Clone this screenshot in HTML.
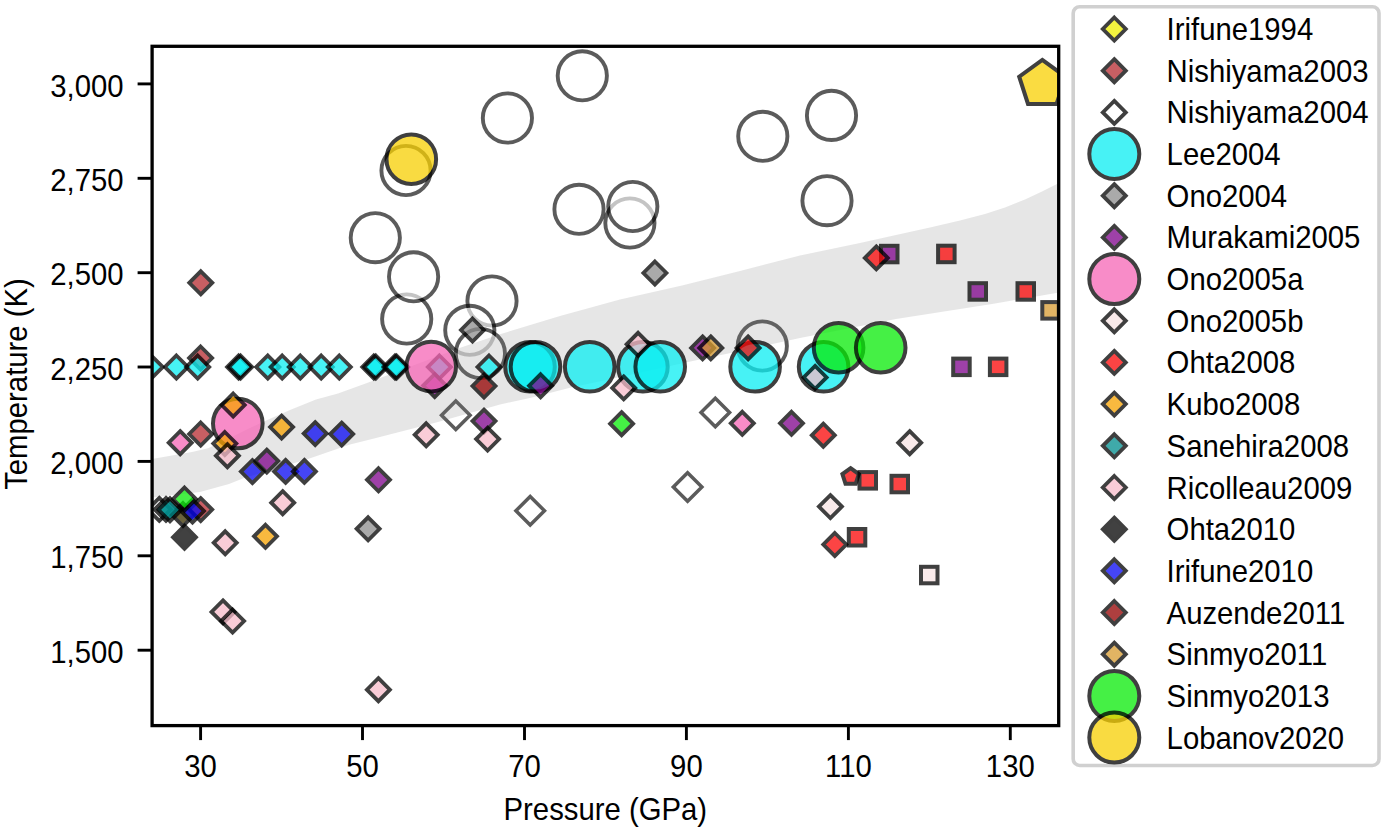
<!DOCTYPE html>
<html><head><meta charset="utf-8"><title>Melting curve</title>
<style>
html,body{margin:0;padding:0;background:#fff;}
body{width:1384px;height:832px;overflow:hidden;}
svg{display:block;}
text{font-family:"Liberation Sans",sans-serif;font-size:29.3px;fill:#000;}
</style></head>
<body>
<svg width="1384" height="832" viewBox="0 0 1384 832">
<defs><clipPath id="ax"><rect x="152.1" y="46.3" width="906.6" height="679.3"/></clipPath></defs>
<rect width="1384" height="832" fill="#fff"/>
<g clip-path="url(#ax)">
<circle cx="375.3" cy="237.7" r="24.6" fill="#fff" opacity="0.64" stroke="#000" stroke-width="3.9"/>
<circle cx="406.7" cy="319.0" r="24.6" fill="#fff" opacity="0.64" stroke="#000" stroke-width="3.9"/>
<circle cx="413.6" cy="276.8" r="24.6" fill="#fff" opacity="0.64" stroke="#000" stroke-width="3.9"/>
<circle cx="492.0" cy="301.0" r="24.6" fill="#fff" opacity="0.64" stroke="#000" stroke-width="3.9"/>
<circle cx="469.8" cy="330.3" r="24.6" fill="#fff" opacity="0.64" stroke="#000" stroke-width="3.9"/>
<circle cx="480.4" cy="353.5" r="24.6" fill="#fff" opacity="0.64" stroke="#000" stroke-width="3.9"/>
<circle cx="406.0" cy="170.5" r="24.6" fill="#fff" opacity="0.64" stroke="#000" stroke-width="3.9"/>
<circle cx="507.4" cy="118.0" r="24.6" fill="#fff" opacity="0.64" stroke="#000" stroke-width="3.9"/>
<circle cx="582.3" cy="75.8" r="24.6" fill="#fff" opacity="0.64" stroke="#000" stroke-width="3.9"/>
<circle cx="579.0" cy="209.3" r="24.6" fill="#fff" opacity="0.64" stroke="#000" stroke-width="3.9"/>
<circle cx="629.9" cy="223.0" r="24.6" fill="#fff" opacity="0.64" stroke="#000" stroke-width="3.9"/>
<circle cx="632.8" cy="206.5" r="24.6" fill="#fff" opacity="0.64" stroke="#000" stroke-width="3.9"/>
<circle cx="762.8" cy="136.3" r="24.6" fill="#fff" opacity="0.64" stroke="#000" stroke-width="3.9"/>
<circle cx="831.5" cy="115.4" r="24.6" fill="#fff" opacity="0.64" stroke="#000" stroke-width="3.9"/>
<circle cx="827.0" cy="200.7" r="24.6" fill="#fff" opacity="0.64" stroke="#000" stroke-width="3.9"/>
<circle cx="762.3" cy="346.0" r="24.6" fill="#fff" opacity="0.64" stroke="#000" stroke-width="3.9"/>
<polygon points="455.8,401.0 470.1,415.3 455.8,429.6 441.5,415.3" fill="#fff" opacity="0.64" stroke="#000" stroke-width="3.5"/>
<polygon points="530.2,496.5 544.5,510.8 530.2,525.1 515.9,510.8" fill="#fff" opacity="0.64" stroke="#000" stroke-width="3.5"/>
<polygon points="687.6,472.7 701.9,487.0 687.6,501.3 673.3,487.0" fill="#fff" opacity="0.64" stroke="#000" stroke-width="3.5"/>
<polygon points="715.3,398.2 729.6,412.5 715.3,426.8 701.0,412.5" fill="#fff" opacity="0.64" stroke="#000" stroke-width="3.5"/>
<polygon points="152,459 192,452 208,448.3 230,438 250,428 265,421 290,410 316,399.5 338,393.5 367,383 400,370.5 461,347.5 500,334.2 560,316 620,299.5 682,285.5 740,271 800,255.5 860,243 896,235 930,227.5 960,220.5 985,214 1005,207.5 1025,199.5 1042,191.5 1059,183 1059,292.5 992,304 896,319 800,338 740,351 688,362 620,377 571,387.5 530,398 500,404.5 470,413 437,422.3 410,429.3 376,438 350,444.5 308,459 244,478 229,484 200,492.0 152,497.5" fill="#808080" fill-opacity="0.2"/>
<polygon points="183.0,503.0 194.5,514.5 183.0,526.0 171.5,514.5" fill="#3a3000" opacity="0.75" stroke="#000" stroke-width="3.8"/>
<polygon points="200.8,271.3 212.3,282.8 200.8,294.3 189.3,282.8" fill="#b62a30" opacity="0.75" stroke="#000" stroke-width="3.8"/>
<polygon points="200.6,346.5 212.1,358.0 200.6,369.5 189.1,358.0" fill="#b62a30" opacity="0.75" stroke="#000" stroke-width="3.8"/>
<polygon points="200.7,422.5 212.2,434.0 200.7,445.5 189.2,434.0" fill="#b62a30" opacity="0.75" stroke="#000" stroke-width="3.8"/>
<polygon points="200.7,498.1 212.2,509.6 200.7,521.1 189.2,509.6" fill="#b62a30" opacity="0.75" stroke="#000" stroke-width="3.8"/>
<polygon points="484.0,374.5 495.5,386.0 484.0,397.5 472.5,386.0" fill="#940000" opacity="0.75" stroke="#000" stroke-width="3.8"/>
<polygon points="159.3,497.9 170.8,509.4 159.3,520.9 147.8,509.4" fill="#ffffff" opacity="0.75" stroke="#000" stroke-width="3.8"/>
<polygon points="151.3,355.5 162.8,367.0 151.3,378.5 139.8,367.0" fill="#0aeef2" opacity="0.75" stroke="#000" stroke-width="3.8"/>
<polygon points="176.4,355.5 187.9,367.0 176.4,378.5 164.9,367.0" fill="#0aeef2" opacity="0.75" stroke="#000" stroke-width="3.8"/>
<polygon points="197.7,355.5 209.2,367.0 197.7,378.5 186.2,367.0" fill="#0aeef2" opacity="0.75" stroke="#000" stroke-width="3.8"/>
<polygon points="238.6,355.5 250.1,367.0 238.6,378.5 227.1,367.0" fill="#0aeef2" opacity="0.75" stroke="#000" stroke-width="3.8"/>
<polygon points="240.6,355.5 252.1,367.0 240.6,378.5 229.1,367.0" fill="#0aeef2" opacity="0.75" stroke="#000" stroke-width="3.8"/>
<polygon points="267.8,355.5 279.3,367.0 267.8,378.5 256.3,367.0" fill="#0aeef2" opacity="0.75" stroke="#000" stroke-width="3.8"/>
<polygon points="282.2,355.5 293.7,367.0 282.2,378.5 270.7,367.0" fill="#0aeef2" opacity="0.75" stroke="#000" stroke-width="3.8"/>
<polygon points="300.3,355.5 311.8,367.0 300.3,378.5 288.8,367.0" fill="#0aeef2" opacity="0.75" stroke="#000" stroke-width="3.8"/>
<polygon points="321.2,355.5 332.7,367.0 321.2,378.5 309.7,367.0" fill="#0aeef2" opacity="0.75" stroke="#000" stroke-width="3.8"/>
<polygon points="339.3,355.5 350.8,367.0 339.3,378.5 327.8,367.0" fill="#0aeef2" opacity="0.75" stroke="#000" stroke-width="3.8"/>
<polygon points="373.8,355.5 385.3,367.0 373.8,378.5 362.3,367.0" fill="#0aeef2" opacity="0.75" stroke="#000" stroke-width="3.8"/>
<polygon points="375.8,355.5 387.3,367.0 375.8,378.5 364.3,367.0" fill="#0aeef2" opacity="0.75" stroke="#000" stroke-width="3.8"/>
<polygon points="395.0,355.5 406.5,367.0 395.0,378.5 383.5,367.0" fill="#0aeef2" opacity="0.75" stroke="#000" stroke-width="3.8"/>
<polygon points="396.6,355.5 408.1,367.0 396.6,378.5 385.1,367.0" fill="#0aeef2" opacity="0.75" stroke="#000" stroke-width="3.8"/>
<polygon points="439.4,355.5 450.9,367.0 439.4,378.5 427.9,367.0" fill="#0aeef2" opacity="0.75" stroke="#000" stroke-width="3.8"/>
<polygon points="489.0,355.5 500.5,367.0 489.0,378.5 477.5,367.0" fill="#0aeef2" opacity="0.75" stroke="#000" stroke-width="3.8"/>
<circle cx="530.0" cy="366.8" r="24.8" fill="#0aeef2" opacity="0.75" stroke="#000" stroke-width="4.0"/>
<circle cx="535.5" cy="366.8" r="24.8" fill="#0aeef2" opacity="0.75" stroke="#000" stroke-width="4.0"/>
<circle cx="589.7" cy="366.8" r="24.8" fill="#0aeef2" opacity="0.75" stroke="#000" stroke-width="4.0"/>
<circle cx="642.9" cy="366.8" r="24.8" fill="#0aeef2" opacity="0.75" stroke="#000" stroke-width="4.0"/>
<circle cx="660.2" cy="366.8" r="24.8" fill="#0aeef2" opacity="0.75" stroke="#000" stroke-width="4.0"/>
<circle cx="755.1" cy="366.8" r="24.8" fill="#0aeef2" opacity="0.75" stroke="#000" stroke-width="4.0"/>
<circle cx="823.6" cy="366.8" r="24.8" fill="#0aeef2" opacity="0.75" stroke="#000" stroke-width="4.0"/>
<polygon points="472.5,318.5 484.0,330.0 472.5,341.5 461.0,330.0" fill="#8e8e8e" opacity="0.75" stroke="#000" stroke-width="3.8"/>
<polygon points="654.9,261.5 666.4,273.0 654.9,284.5 643.4,273.0" fill="#8e8e8e" opacity="0.75" stroke="#000" stroke-width="3.8"/>
<polygon points="368.1,517.3 379.6,528.8 368.1,540.3 356.6,528.8" fill="#8e8e8e" opacity="0.75" stroke="#000" stroke-width="3.8"/>
<polygon points="266.8,449.6 278.3,461.1 266.8,472.6 255.3,461.1" fill="#7e028b" opacity="0.75" stroke="#000" stroke-width="3.8"/>
<polygon points="378.5,468.3 390.0,479.8 378.5,491.3 367.0,479.8" fill="#7e028b" opacity="0.75" stroke="#000" stroke-width="3.8"/>
<polygon points="484.0,409.6 495.5,421.1 484.0,432.6 472.5,421.1" fill="#7e028b" opacity="0.75" stroke="#000" stroke-width="3.8"/>
<polygon points="540.6,374.3 552.1,385.8 540.6,397.3 529.1,385.8" fill="#7e028b" opacity="0.75" stroke="#000" stroke-width="3.8"/>
<polygon points="702.6,336.4 714.1,347.9 702.6,359.4 691.1,347.9" fill="#7e028b" opacity="0.75" stroke="#000" stroke-width="3.8"/>
<polygon points="791.5,411.8 803.0,423.3 791.5,434.8 780.0,423.3" fill="#7e028b" opacity="0.75" stroke="#000" stroke-width="3.8"/>
<polygon points="434.7,374.1 446.2,385.6 434.7,397.1 423.2,385.6" fill="#7e028b" opacity="0.75" stroke="#000" stroke-width="3.8"/>
<rect x="881.0" y="245.8" width="16.5" height="16.5" fill="#7e028b" opacity="0.75" stroke="#000" stroke-width="4.0"/>
<rect x="969.5" y="283.2" width="16.5" height="16.5" fill="#7e028b" opacity="0.75" stroke="#000" stroke-width="4.0"/>
<rect x="953.2" y="358.6" width="16.5" height="16.5" fill="#7e028b" opacity="0.75" stroke="#000" stroke-width="4.0"/>
<circle cx="237.8" cy="423.5" r="24.8" fill="#f666b6" opacity="0.75" stroke="#000" stroke-width="4.0"/>
<circle cx="431.2" cy="366.6" r="24.8" fill="#f666b6" opacity="0.75" stroke="#000" stroke-width="4.0"/>
<polygon points="180.2,431.2 191.7,442.7 180.2,454.2 168.7,442.7" fill="#f666b6" opacity="0.75" stroke="#000" stroke-width="3.8"/>
<polygon points="742.3,411.8 753.8,423.3 742.3,434.8 730.8,423.3" fill="#f666b6" opacity="0.75" stroke="#000" stroke-width="3.8"/>
<polygon points="830.4,495.1 841.9,506.6 830.4,518.1 818.9,506.6" fill="#f8e4e4" opacity="0.75" stroke="#000" stroke-width="3.8"/>
<polygon points="909.7,431.2 921.2,442.7 909.7,454.2 898.2,442.7" fill="#f8e4e4" opacity="0.75" stroke="#000" stroke-width="3.8"/>
<rect x="921.0" y="566.8" width="16.5" height="16.5" fill="#f8e4e4" opacity="0.75" stroke="#000" stroke-width="4.0"/>
<polygon points="850.6,468.2 858.8,474.1 855.7,483.8 845.5,483.8 842.4,474.1" fill="#fb0606" opacity="0.75" stroke="#000" stroke-width="4.0"/>
<rect x="859.5" y="472.1" width="16.5" height="16.5" fill="#fb0606" opacity="0.75" stroke="#000" stroke-width="4.0"/>
<rect x="891.5" y="475.8" width="16.5" height="16.5" fill="#fb0606" opacity="0.75" stroke="#000" stroke-width="4.0"/>
<rect x="848.8" y="529.0" width="16.5" height="16.5" fill="#fb0606" opacity="0.75" stroke="#000" stroke-width="4.0"/>
<rect x="938.1" y="245.7" width="16.5" height="16.5" fill="#fb0606" opacity="0.75" stroke="#000" stroke-width="4.0"/>
<rect x="1017.5" y="283.2" width="16.5" height="16.5" fill="#fb0606" opacity="0.75" stroke="#000" stroke-width="4.0"/>
<rect x="989.9" y="358.6" width="16.5" height="16.5" fill="#fb0606" opacity="0.75" stroke="#000" stroke-width="4.0"/>
<polygon points="748.1,336.4 759.6,347.9 748.1,359.4 736.6,347.9" fill="#fb0606" opacity="0.75" stroke="#000" stroke-width="3.8"/>
<polygon points="823.3,423.7 834.8,435.2 823.3,446.7 811.8,435.2" fill="#fb0606" opacity="0.75" stroke="#000" stroke-width="3.8"/>
<polygon points="834.8,533.0 846.3,544.5 834.8,556.0 823.3,544.5" fill="#fb0606" opacity="0.75" stroke="#000" stroke-width="3.8"/>
<polygon points="876.3,246.4 887.8,257.9 876.3,269.4 864.8,257.9" fill="#fb0606" opacity="0.75" stroke="#000" stroke-width="3.8"/>
<polygon points="233.2,393.5 244.7,405.0 233.2,416.5 221.7,405.0" fill="#f8a200" opacity="0.75" stroke="#000" stroke-width="3.8"/>
<polygon points="281.6,415.6 293.1,427.1 281.6,438.6 270.1,427.1" fill="#f8a200" opacity="0.75" stroke="#000" stroke-width="3.8"/>
<polygon points="265.5,524.8 277.0,536.3 265.5,547.8 254.0,536.3" fill="#f8a200" opacity="0.75" stroke="#000" stroke-width="3.8"/>
<polygon points="224.8,432.0 236.3,443.5 224.8,455.0 213.3,443.5" fill="#f8a200" opacity="0.75" stroke="#000" stroke-width="3.8"/>
<polygon points="166.0,497.9 177.5,509.4 166.0,520.9 154.5,509.4" fill="#008e8e" opacity="0.75" stroke="#000" stroke-width="3.8"/>
<polygon points="170.0,498.3 181.5,509.8 170.0,521.3 158.5,509.8" fill="#008e8e" opacity="0.75" stroke="#000" stroke-width="3.8"/>
<polygon points="225.2,531.3 236.7,542.8 225.2,554.3 213.7,542.8" fill="#f8bcca" opacity="0.75" stroke="#000" stroke-width="3.8"/>
<polygon points="282.7,491.2 294.2,502.7 282.7,514.2 271.2,502.7" fill="#f8bcca" opacity="0.75" stroke="#000" stroke-width="3.8"/>
<polygon points="223.0,600.4 234.5,611.9 223.0,623.4 211.5,611.9" fill="#f8bcca" opacity="0.75" stroke="#000" stroke-width="3.8"/>
<polygon points="232.6,609.5 244.1,621.0 232.6,632.5 221.1,621.0" fill="#f8bcca" opacity="0.75" stroke="#000" stroke-width="3.8"/>
<polygon points="378.4,678.2 389.9,689.7 378.4,701.2 366.9,689.7" fill="#f8bcca" opacity="0.75" stroke="#000" stroke-width="3.8"/>
<polygon points="426.2,423.3 437.7,434.8 426.2,446.3 414.7,434.8" fill="#f8bcca" opacity="0.75" stroke="#000" stroke-width="3.8"/>
<polygon points="487.6,427.6 499.1,439.1 487.6,450.6 476.1,439.1" fill="#f8bcca" opacity="0.75" stroke="#000" stroke-width="3.8"/>
<polygon points="227.4,444.2 238.9,455.7 227.4,467.2 215.9,455.7" fill="#f8bcca" opacity="0.75" stroke="#000" stroke-width="3.8"/>
<polygon points="623.7,376.4 635.2,387.9 623.7,399.4 612.2,387.9" fill="#f8bcca" opacity="0.75" stroke="#000" stroke-width="3.8"/>
<polygon points="638.1,332.8 649.6,344.3 638.1,355.8 626.6,344.3" fill="#f8bcca" opacity="0.75" stroke="#000" stroke-width="3.8"/>
<polygon points="815.1,365.9 826.6,377.4 815.1,388.9 803.6,377.4" fill="#f8bcca" opacity="0.75" stroke="#000" stroke-width="3.8"/>
<polygon points="184.5,525.7 196.0,537.2 184.5,548.7 173.0,537.2" fill="#020202" opacity="0.75" stroke="#000" stroke-width="3.8"/>
<polygon points="252.4,460.1 263.9,471.6 252.4,483.1 240.9,471.6" fill="#0808f2" opacity="0.75" stroke="#000" stroke-width="3.8"/>
<polygon points="285.6,459.9 297.1,471.4 285.6,482.9 274.1,471.4" fill="#0808f2" opacity="0.75" stroke="#000" stroke-width="3.8"/>
<polygon points="304.4,459.9 315.9,471.4 304.4,482.9 292.9,471.4" fill="#0808f2" opacity="0.75" stroke="#000" stroke-width="3.8"/>
<polygon points="315.2,422.1 326.7,433.6 315.2,445.1 303.7,433.6" fill="#0808f2" opacity="0.75" stroke="#000" stroke-width="3.8"/>
<polygon points="341.7,422.6 353.2,434.1 341.7,445.6 330.2,434.1" fill="#0808f2" opacity="0.75" stroke="#000" stroke-width="3.8"/>
<polygon points="192.5,499.5 204.0,511.0 192.5,522.5 181.0,511.0" fill="#0808f2" opacity="0.75" stroke="#000" stroke-width="3.8"/>
<polygon points="710.8,336.4 722.3,347.9 710.8,359.4 699.3,347.9" fill="#d79b30" opacity="0.75" stroke="#000" stroke-width="3.8"/>
<rect x="1042.3" y="302.1" width="16.5" height="16.5" fill="#d79b30" opacity="0.75" stroke="#000" stroke-width="4.0"/>
<circle cx="838.6" cy="347.7" r="24.8" fill="#08eb08" opacity="0.75" stroke="#000" stroke-width="4.0"/>
<circle cx="880.7" cy="347.7" r="24.8" fill="#08eb08" opacity="0.75" stroke="#000" stroke-width="4.0"/>
<polygon points="621.6,412.2 633.1,423.7 621.6,435.2 610.1,423.7" fill="#08eb08" opacity="0.75" stroke="#000" stroke-width="3.8"/>
<polygon points="184.5,487.5 196.0,499.0 184.5,510.5 173.0,499.0" fill="#08eb08" opacity="0.75" stroke="#000" stroke-width="3.8"/>
<circle cx="411.3" cy="159.2" r="24.8" fill="#f8d002" opacity="0.75" stroke="#000" stroke-width="4.0"/>
<polygon points="1042.3,59.9 1065.4,76.7 1056.6,103.9 1028.0,103.9 1019.2,76.7" fill="#f8d002" opacity="0.75" stroke="#000" stroke-width="4.0"/>
</g>
<rect x="152.1" y="46.3" width="906.6" height="679.3" fill="none" stroke="#000" stroke-width="3.3"/>
<g stroke="#000" stroke-width="2.9">
<line x1="200.6" y1="725.6" x2="200.6" y2="740.1"/>
<line x1="362.5" y1="725.6" x2="362.5" y2="740.1"/>
<line x1="524.5" y1="725.6" x2="524.5" y2="740.1"/>
<line x1="686.4" y1="725.6" x2="686.4" y2="740.1"/>
<line x1="848.4" y1="725.6" x2="848.4" y2="740.1"/>
<line x1="1010.3" y1="725.6" x2="1010.3" y2="740.1"/>
<line x1="137.6" y1="650.2" x2="152.1" y2="650.2"/>
<line x1="137.6" y1="555.8" x2="152.1" y2="555.8"/>
<line x1="137.6" y1="461.4" x2="152.1" y2="461.4"/>
<line x1="137.6" y1="367.0" x2="152.1" y2="367.0"/>
<line x1="137.6" y1="272.7" x2="152.1" y2="272.7"/>
<line x1="137.6" y1="178.3" x2="152.1" y2="178.3"/>
<line x1="137.6" y1="83.9" x2="152.1" y2="83.9"/>
</g>
<text transform="translate(200.6,777.0) scale(1,1.056)" text-anchor="middle">30</text>
<text transform="translate(362.5,777.0) scale(1,1.056)" text-anchor="middle">50</text>
<text transform="translate(524.5,777.0) scale(1,1.056)" text-anchor="middle">70</text>
<text transform="translate(686.4,777.0) scale(1,1.056)" text-anchor="middle">90</text>
<text transform="translate(848.4,777.0) scale(1,1.056)" text-anchor="middle">110</text>
<text transform="translate(1010.3,777.0) scale(1,1.056)" text-anchor="middle">130</text>
<text transform="translate(123.6,662.8) scale(1,1.056)" text-anchor="end">1,500</text>
<text transform="translate(123.6,568.4) scale(1,1.056)" text-anchor="end">1,750</text>
<text transform="translate(123.6,474.0) scale(1,1.056)" text-anchor="end">2,000</text>
<text transform="translate(123.6,379.6) scale(1,1.056)" text-anchor="end">2,250</text>
<text transform="translate(123.6,285.3) scale(1,1.056)" text-anchor="end">2,500</text>
<text transform="translate(123.6,190.9) scale(1,1.056)" text-anchor="end">2,750</text>
<text transform="translate(123.6,96.5) scale(1,1.056)" text-anchor="end">3,000</text>
<text transform="translate(605.3,820.4) scale(1,1.056)" text-anchor="middle">Pressure (GPa)</text>
<text transform="translate(27.1,384.0) rotate(-90) scale(1,1.056)" text-anchor="middle">Temperature (K)</text>
<rect x="1073.2" y="6.7" width="305.8" height="758.8" rx="6.5" ry="6.5" fill="#fff" stroke="#d0d0d0" stroke-width="3.6"/>
<polygon points="1114.3,17.5 1125.8,29.0 1114.3,40.5 1102.8,29.0" fill="#f0f000" opacity="0.75" stroke="#000" stroke-width="3.8"/>
<polygon points="1114.3,59.2 1125.8,70.7 1114.3,82.2 1102.8,70.7" fill="#b62a30" opacity="0.75" stroke="#000" stroke-width="3.8"/>
<polygon points="1114.3,100.9 1125.8,112.4 1114.3,123.9 1102.8,112.4" fill="#ffffff" opacity="0.75" stroke="#000" stroke-width="3.8"/>
<circle cx="1114.3" cy="154.0" r="25.0" fill="#0aeef2" opacity="0.75" stroke="#000" stroke-width="4.0"/>
<polygon points="1114.3,184.2 1125.8,195.7 1114.3,207.2 1102.8,195.7" fill="#8e8e8e" opacity="0.75" stroke="#000" stroke-width="3.8"/>
<polygon points="1114.3,225.9 1125.8,237.4 1114.3,248.9 1102.8,237.4" fill="#7e028b" opacity="0.75" stroke="#000" stroke-width="3.8"/>
<circle cx="1114.3" cy="279.1" r="25.0" fill="#f666b6" opacity="0.75" stroke="#000" stroke-width="4.0"/>
<polygon points="1114.3,309.3 1125.8,320.8 1114.3,332.3 1102.8,320.8" fill="#f8e4e4" opacity="0.75" stroke="#000" stroke-width="3.8"/>
<polygon points="1114.3,350.9 1125.8,362.4 1114.3,373.9 1102.8,362.4" fill="#fb0606" opacity="0.75" stroke="#000" stroke-width="3.8"/>
<polygon points="1114.3,392.6 1125.8,404.1 1114.3,415.6 1102.8,404.1" fill="#f8a200" opacity="0.75" stroke="#000" stroke-width="3.8"/>
<polygon points="1114.3,434.3 1125.8,445.8 1114.3,457.3 1102.8,445.8" fill="#008e8e" opacity="0.75" stroke="#000" stroke-width="3.8"/>
<polygon points="1114.3,476.0 1125.8,487.5 1114.3,499.0 1102.8,487.5" fill="#f8bcca" opacity="0.75" stroke="#000" stroke-width="3.8"/>
<polygon points="1114.3,517.7 1125.8,529.2 1114.3,540.7 1102.8,529.2" fill="#020202" opacity="0.75" stroke="#000" stroke-width="3.8"/>
<polygon points="1114.3,559.3 1125.8,570.8 1114.3,582.3 1102.8,570.8" fill="#0808f2" opacity="0.75" stroke="#000" stroke-width="3.8"/>
<polygon points="1114.3,601.0 1125.8,612.5 1114.3,624.0 1102.8,612.5" fill="#940000" opacity="0.75" stroke="#000" stroke-width="3.8"/>
<polygon points="1114.3,642.7 1125.8,654.2 1114.3,665.7 1102.8,654.2" fill="#d79b30" opacity="0.75" stroke="#000" stroke-width="3.8"/>
<circle cx="1114.3" cy="695.9" r="25.0" fill="#08eb08" opacity="0.75" stroke="#000" stroke-width="4.0"/>
<circle cx="1114.3" cy="737.6" r="25.0" fill="#f8d002" opacity="0.75" stroke="#000" stroke-width="4.0"/>
<text transform="translate(1166.6,40.0) scale(1,1.056)">Irifune1994</text>
<text transform="translate(1166.6,81.7) scale(1,1.056)">Nishiyama2003</text>
<text transform="translate(1166.6,123.4) scale(1,1.056)">Nishiyama2004</text>
<text transform="translate(1166.6,165.0) scale(1,1.056)">Lee2004</text>
<text transform="translate(1166.6,206.7) scale(1,1.056)">Ono2004</text>
<text transform="translate(1166.6,248.4) scale(1,1.056)">Murakami2005</text>
<text transform="translate(1166.6,290.1) scale(1,1.056)">Ono2005a</text>
<text transform="translate(1166.6,331.8) scale(1,1.056)">Ono2005b</text>
<text transform="translate(1166.6,373.4) scale(1,1.056)">Ohta2008</text>
<text transform="translate(1166.6,415.1) scale(1,1.056)">Kubo2008</text>
<text transform="translate(1166.6,456.8) scale(1,1.056)">Sanehira2008</text>
<text transform="translate(1166.6,498.5) scale(1,1.056)">Ricolleau2009</text>
<text transform="translate(1166.6,540.2) scale(1,1.056)">Ohta2010</text>
<text transform="translate(1166.6,581.8) scale(1,1.056)">Irifune2010</text>
<text transform="translate(1166.6,623.5) scale(1,1.056)">Auzende2011</text>
<text transform="translate(1166.6,665.2) scale(1,1.056)">Sinmyo2011</text>
<text transform="translate(1166.6,706.9) scale(1,1.056)">Sinmyo2013</text>
<text transform="translate(1166.6,748.6) scale(1,1.056)">Lobanov2020</text>
</svg>
</body></html>
